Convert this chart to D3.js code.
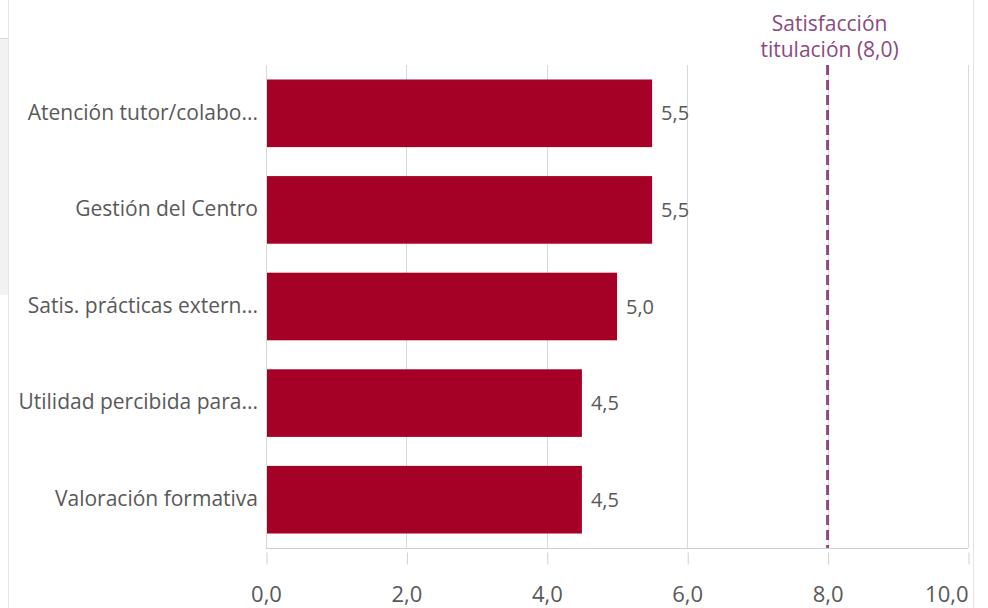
<!DOCTYPE html>
<html>
<head>
<meta charset="utf-8">
<script src="https://cdn.jsdelivr.net/npm/d3@7"></script>
<style>
  body { margin: 0; background: #fff; }
  svg { display: block; }
</style>
</head>
<body>
<svg id="chart" width="988" height="608"></svg>
<script>
// data
var categories = ["Atención tutor/colabo...", "Gestión del Centro", "Satis. prácticas extern...",
                  "Utilidad percibida para...", "Valoración formativa"];
var values = [5.5, 5.5, 5.0, 4.5, 4.5];
var xTicks = [0, 2, 4, 6, 8, 10];
var refValue = 8.0;
var refLabel = ["Satisfacción", "titulación (8,0)"];

var fmt = function(v) { return d3.format(".1f")(v).replace(".", ","); };

var svg = d3.select("#chart");
var W = 988, H = 608;
// plot box (note: "top" is taken by window.top, so use plot*)
var plotL = 266, plotR = 968, plotT = 65, plotB = 548;
var font = "'Open Sans', sans-serif";

// panel decorations
svg.append("rect").attr("x", 0).attr("y", 38).attr("width", 8).attr("height", 257).attr("fill", "#f2f2f2");
svg.append("line").attr("x1", 0).attr("x2", 8).attr("y1", 38.5).attr("y2", 38.5).attr("stroke", "#d9d9d9");
svg.append("line").attr("x1", 8.5).attr("x2", 8.5).attr("y1", 0).attr("y2", H).attr("stroke", "#e3e3e3");
svg.append("line").attr("x1", 973.5).attr("x2", 973.5).attr("y1", 0).attr("y2", H).attr("stroke", "#e3e3e3");

var x = d3.scaleLinear().domain([0, 10]).range([plotL, plotR]);
var y = d3.scaleBand().domain(categories).range([plotT, plotB])
    .paddingInner(0.3).paddingOuter(0.15);

// grid
svg.append("g").selectAll("line").data(xTicks).enter().append("line")
    .attr("x1", function(d) { return Math.round(x(d)) + 0.5; })
    .attr("x2", function(d) { return Math.round(x(d)) + 0.5; })
    .attr("y1", plotT).attr("y2", plotB)
    .attr("stroke", "#d9d9d9").attr("stroke-width", 1);

// x axis
var xAxis = svg.append("g")
    .attr("transform", "translate(0," + (plotB + 0.5) + ")")
    .call(d3.axisBottom(x).tickValues(xTicks).tickFormat(fmt).tickSize(16).tickPadding(22));
xAxis.select(".domain").attr("stroke", "#d0d0d0").attr("d", "M" + plotL + ",0H" + plotR);
xAxis.selectAll(".tick line").attr("stroke", "#d0d0d0")
    .attr("transform", "translate(0.5,0)").attr("y1", 4);
xAxis.selectAll("text")
    .attr("fill", "#595959")
    .style("font-family", font)
    .style("font-size", "22px")
    .attr("text-anchor", function(d, i) { return i === xTicks.length - 1 ? "end" : "middle"; });

// y axis labels
svg.append("g").selectAll("text").data(categories).enter().append("text")
    .attr("x", plotL - 8)
    .attr("y", function(d) { return y(d) + y.bandwidth() / 2; })
    .attr("dy", "0.3em")
    .attr("text-anchor", "end")
    .attr("fill", "#595959")
    .style("font-family", font)
    .style("font-size", "21px")
    .text(function(d) { return d; });

// bars
svg.append("g").selectAll("rect").data(values).enter().append("rect")
    .attr("x", x(0) + 1)
    .attr("y", function(d, i) { return y(categories[i]); })
    .attr("width", function(d) { return x(d) - x(0) - 1; })
    .attr("height", y.bandwidth())
    .attr("fill", "#a50026");

// value labels
svg.append("g").selectAll("text").data(values).enter().append("text")
    .attr("x", function(d) { return x(d) + 9; })
    .attr("y", function(d, i) { return y(categories[i]) + y.bandwidth() / 2; })
    .attr("dy", "0.35em")
    .attr("fill", "#595959")
    .style("font-family", font)
    .style("font-size", "20px")
    .text(fmt);

// reference line
svg.append("line")
    .attr("x1", x(refValue)).attr("x2", x(refValue))
    .attr("y1", plotT).attr("y2", plotB)
    .attr("stroke", "#8a4a7f").attr("stroke-width", 3)
    .attr("stroke-dasharray", "10,5");

svg.append("g").selectAll("text").data(refLabel).enter().append("text")
    .attr("x", x(refValue) + 2)
    .attr("y", function(d, i) { return 31 + i * 26; })
    .attr("text-anchor", "middle")
    .attr("fill", "#8a4a7f")
    .style("font-family", font)
    .style("font-size", "21px")
    .text(function(d) { return d; });
</script>
</body>
</html>
